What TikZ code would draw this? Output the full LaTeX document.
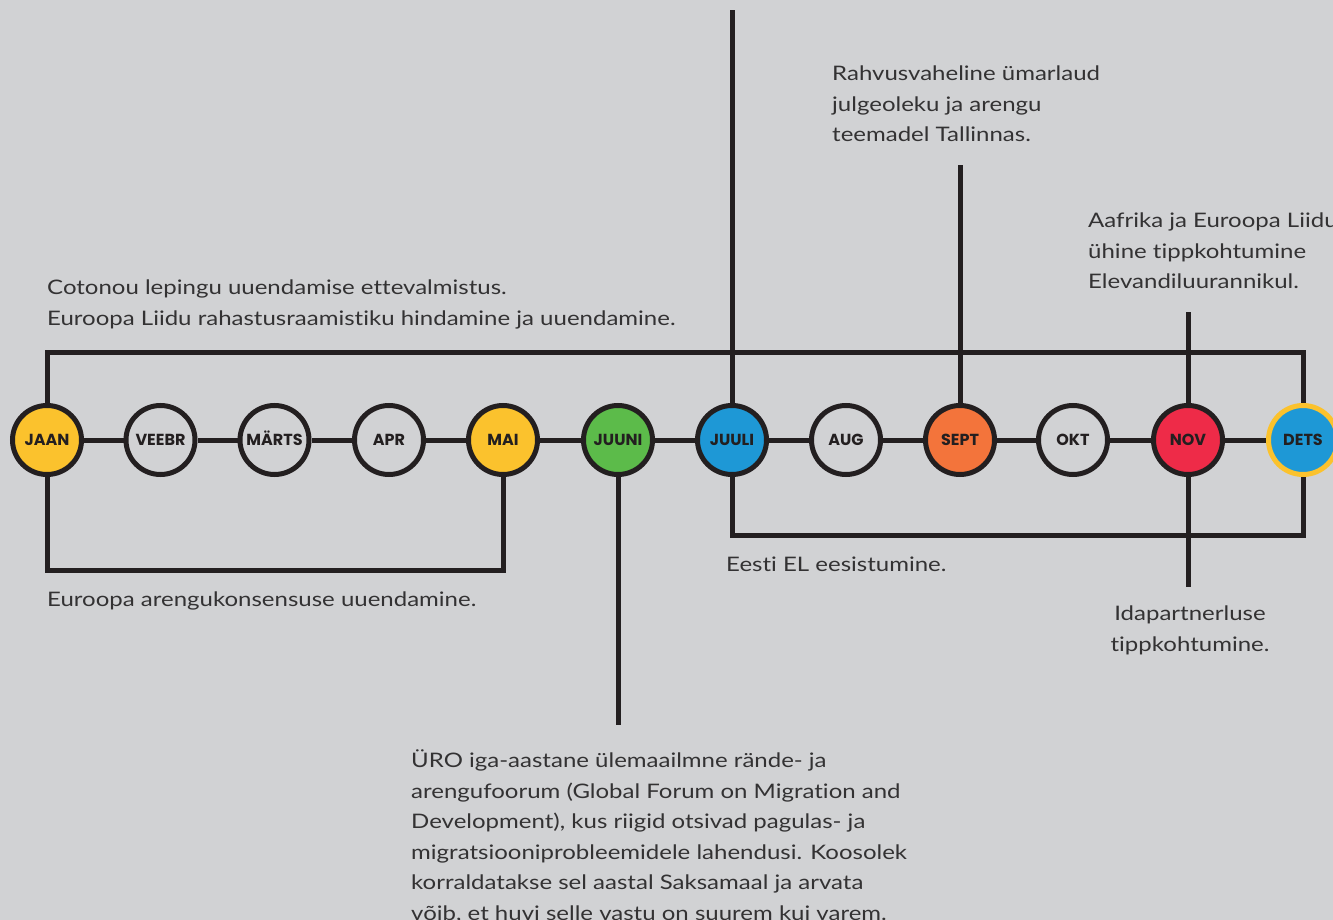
\documentclass[tikz,border=0pt]{standalone}
\usepackage{fontspec}
\setmainfont{Lato}[FakeStretch=1.2,Ligatures=NoCommon]
\newfontfamily\monthfont{Poppins}
\definecolor{bg}{HTML}{D1D2D4}
\definecolor{ink}{HTML}{231F20}
\definecolor{txt}{HTML}{333233}
\definecolor{kollane}{HTML}{FBC22D}
\definecolor{roheline}{HTML}{5CBB4A}
\definecolor{sinine}{HTML}{1E98D6}
\definecolor{oranz}{HTML}{F3743B}
\definecolor{punane}{HTML}{EE2B48}
\begin{document}
\begin{tikzpicture}[x=1pt,y=-1pt]
    \tikzstyle{kuu}=[circle,draw=ink,line width=5pt,minimum size=69pt,inner sep=0pt,
        text height=11pt,text depth=0pt,
        fill=bg,font=\monthfont\fontsize{16}{16}\selectfont\bfseries,text=ink]
    \tikzstyle{joon}=[draw=ink,line width=5pt]
    \tikzstyle{markus}=[anchor=north west,align=left,inner sep=0pt,text=txt,
        font=\fontsize{20}{30.5}\selectfont]
    \fill[bg] (0,0) rectangle (1333,920);
    \useasboundingbox (0,0) rectangle (1333,920);
    % kuud
    \node[kuu,fill=kollane] (jaan) at (47,440) {JAAN};
    \node[kuu] (veebr) at (160.5,440) {VEEBR};
    \node[kuu] (marts) at (274.5,440) {MÄRTS};
    \node[kuu] (apr) at (389,440) {APR};
    \node[kuu,fill=kollane] (mai) at (503,440) {MAI};
    \node[kuu,fill=roheline] (juuni) at (618,440) {JUUNI};
    \node[kuu,fill=sinine] (juuli) at (732,440) {JUULI};
    \node[kuu] (aug) at (846,440) {AUG};
    \node[kuu,fill=oranz] (sept) at (960,440) {SEPT};
    \node[kuu] (okt) at (1073,440) {OKT};
    \node[kuu,fill=punane] (nov) at (1188,440) {NOV};
    \node[kuu,fill=sinine,draw=kollane] (dets) at (1303,440) {DETS};
    \draw[joon] (jaan) -- (veebr) -- (marts) -- (apr) -- (mai) -- (juuni) -- (juuli)
        -- (aug) -- (sept) -- (okt) -- (nov) -- (dets);
    % sulud
    \draw[joon] (jaan.north) -- (jaan.north |- 0,352) -| (dets.north);
    \draw[joon] (jaan.south) -- (jaan.south |- 0,570) -| (mai.south);
    \draw[joon] (juuli.south) -- (juuli.south |- 0,535) -| (dets.south);
    % pusty jooned
    \coordinate (juuliots) at (732,10);
    \coordinate (septots) at (960,165);
    \coordinate (novylal) at (1188,312);
    \coordinate (novall) at (1188,587);
    \coordinate (juuniots) at (618,725);
    \draw[joon] (juuli.north) -- (juuliots);
    \draw[joon] (sept.north) -- (septots);
    \draw[joon] (nov.north) -- (novylal);
    \draw[joon] (nov.south) -- (novall);
    \draw[joon] (juuni.south) -- (juuniots);
    % tekstid
    \node[markus] (umarlaud) at (832,66) {Rahvusvaheline ümarlaud\\julgeoleku ja arengu\\teemadel Tallinnas.};
    \node[markus] (aafrika) at (1088,213) {Aafrika ja Euroopa Liidu\\ühine tippkohtumine\\Elevandiluurannikul.};
    \node[markus] (cotonou) at (47,280) {Cotonou lepingu uuendamise ettevalmistus.\\Euroopa Liidu rahastusraamistiku hindamine ja uuendamine.};
    \node[markus] (konsensus) at (47,592) {Euroopa arengukonsensuse uuendamine.};
    \node[markus] (eesistumine) at (726,557) {Eesti EL eesistumine.};
    \node[markus,anchor=north,align=center] (idapartnerlus) at (1190,606) {Idapartnerluse\\tippkohtumine.};
    \node[markus] (uro) at (411,750) {ÜRO iga-aastane ülemaailmne rände- ja\\arengufoorum (Global Forum on Migration and\\Development), kus riigid otsivad pagulas- ja\\migratsiooniprobleemidele lahendusi. Koosolek\\korraldatakse sel aastal Saksamaal ja arvata\\võib, et huvi selle vastu on suurem kui varem.};
\end{tikzpicture}
\end{document}
